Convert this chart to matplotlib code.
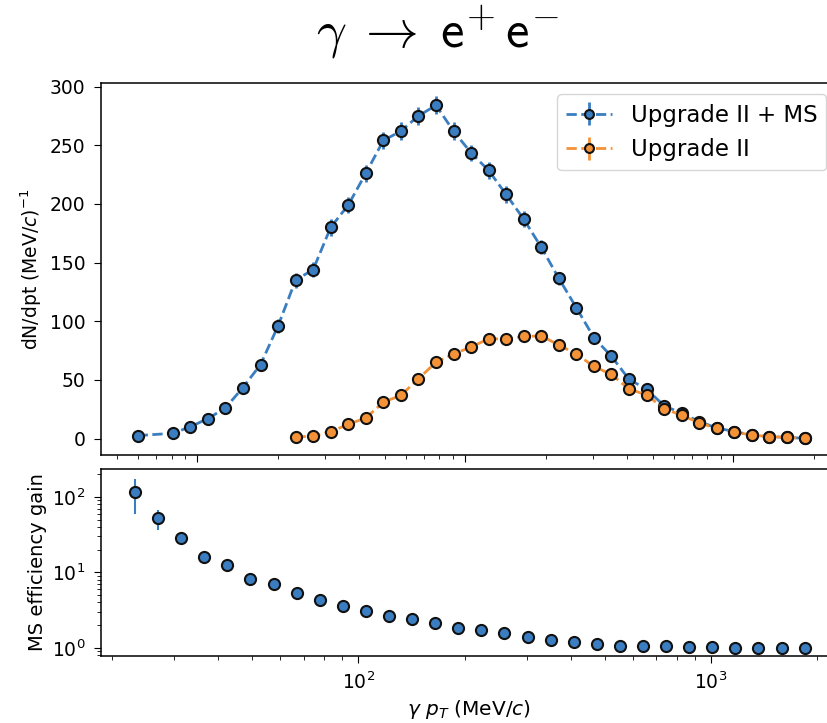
import numpy as np
import matplotlib
matplotlib.use("Agg")
from matplotlib import pyplot as plt

# photon pT bin centres (MeV/c)
pt = [5.98, 6.95, 8.09, 9.40, 10.93, 12.71, 14.78, 17.19, 19.99, 23.24,
      27.03, 31.43, 36.54, 42.49, 49.41, 57.45, 66.81, 77.68, 90.33, 105.0,
      122.1, 142.0, 165.1, 192.0, 223.3, 259.6, 301.9, 351.1, 408.2, 474.7,
      552.0, 641.8, 746.3, 867.8, 1009, 1173, 1364, 1586, 1845]

# Upgrade II + MS (bin 1 is empty)
ms_pt = [pt[0]] + pt[2:]
ms_y = [2.5, 4.5, 10, 17, 26, 43.5, 63, 96, 135, 144,
        180, 199, 226, 254, 262, 275, 284, 262, 243.5, 228.5,
        208, 187, 163, 136.5, 111.5, 86, 70, 50.5, 42, 28,
        21.5, 14.5, 9, 6, 3, 1.7, 0.9, 0.3]
ms_err = [1, 1.5, 2, 2.5, 3, 4, 5, 6, 6.5, 6.5,
          7, 7, 7, 7.5, 7.5, 7.5, 7.5, 7.5, 7, 7,
          7, 6.5, 6, 5.5, 5, 4.5, 4, 3.5, 3, 2.5,
          2, 2, 1.5, 1, 1, 0.7, 0.5, 0.3]

# Upgrade II (starts at bin 9)
up_pt = pt[9:]
up_y = [1.2, 2.2, 5.8, 12.2, 17.5, 31, 36.8, 51, 65, 72,
        78, 85, 85, 87, 87.5, 79.7, 72, 61.5, 54.6, 42.2,
        37.2, 25.5, 19.8, 13.4, 8.6, 5.7, 2.9, 1.7, 0.9, 0.3]
up_err = [0.6, 1, 1.5, 2, 2.5, 3, 3.5, 4, 4.5, 4.5,
          5, 5, 5, 5, 5, 5, 4.5, 4.5, 4, 3.5,
          3.5, 3, 2.5, 2, 1.5, 1.2, 1, 0.7, 0.5, 0.3]

# MS efficiency gain
gain = [116, 52, 29, 15.8, 12.7, 8.1, 7.1, 5.4, 4.3, 3.6,
        3.1, 2.67, 2.44, 2.12, 1.85, 1.71, 1.55, 1.38, 1.28, 1.19,
        1.12, 1.07, 1.07, 1.05, 1.03, 1.03, 1.01, 1.01, 1.01, 1.01]
gain_err = [57, 16, 4, 1.5, 1.2, 0.6, 0.5, 0.35, 0.25, 0.2,
            0.15, 0.12, 0.1, 0.08, 0.06, 0.05, 0.04, 0.04, 0.03, 0.03,
            0.03, 0.02, 0.02, 0.02, 0.02, 0.02, 0.02, 0.02, 0.02, 0.02]

blue = '#3a7dc0'
orange = '#f39237'
mk = dict(marker='o', ms=8, mec='#111111', mew=1.5)

plt.rcParams['xtick.major.size'] = 5
plt.rcParams['ytick.major.size'] = 5
plt.rcParams['xtick.minor.size'] = 3
plt.rcParams['ytick.minor.size'] = 3
plt.rcParams['xtick.major.pad'] = 6
plt.rcParams['ytick.major.pad'] = 6
plt.rcParams['axes.linewidth'] = 1.1

fig = plt.figure(figsize=(8.27, 7.23), dpi=100)
ax1 = fig.add_axes([0.122, 0.3707, 0.891, 0.5145])
ax2 = fig.add_axes([0.122, 0.0927, 0.891, 0.2586])

ax1.errorbar(ms_pt, ms_y, yerr=ms_err, ls='--', lw=2, color=blue,
             label='Upgrade II + MS', **mk)
ax1.errorbar(up_pt, up_y, yerr=up_err, ls='--', lw=2, color=orange,
             label='Upgrade II', **mk)
ax1.set_xscale('log')
ax1.set_xlim(4.36, 2455)
ax1.set_ylim(-14, 303)
ax1.set_yticks([0, 50, 100, 150, 200, 250, 300])
ax1.tick_params(labelsize=13.5)
ax1.tick_params(axis='x', which='major', pad=8)
ax1.set_ylabel('dN/dpt (MeV/$c$)$^{-1}$', fontsize=13.5)
ax1.legend(loc='upper right', fontsize=16.5, markerscale=0.8)
fig.suptitle(r'$\gamma\;\rightarrow\;\mathsf{e}^{+}\,\mathsf{e}^{-}$',
             x=0.529, y=0.995, fontsize=38, math_fontfamily='cm')

ax2.errorbar(up_pt, gain, yerr=gain_err, ls='none', color=blue, **mk)
ax2.set_xscale('log')
ax2.set_yscale('log')
ax2.set_xlim(18.6, 2290)
ax2.set_ylim(0.78, 235)
ax2.tick_params(labelsize=13.5)
ax2.set_ylabel('MS efficiency gain', fontsize=14)
ax2.set_xlabel(r'$\gamma\ p_T$ (MeV/$c$)', fontsize=14.5)

fig.savefig('out.png', dpi=100)
